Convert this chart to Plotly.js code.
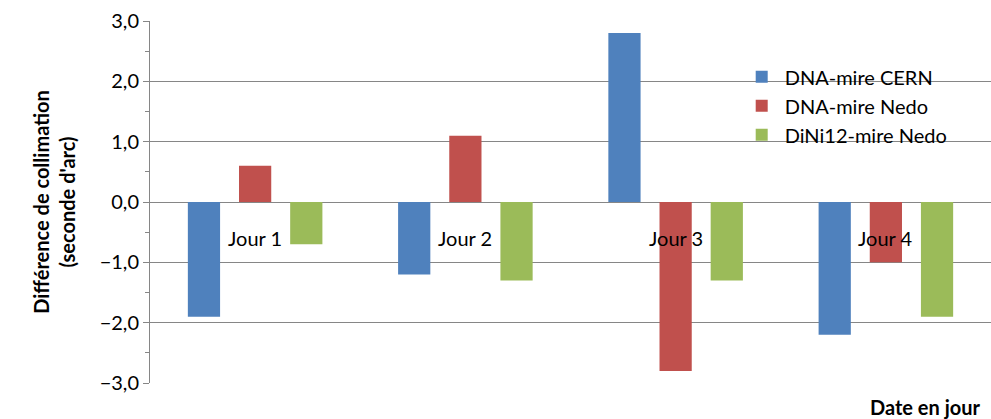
<!DOCTYPE html><html><head><meta charset="utf-8">
<script src="https://cdn.plot.ly/plotly-3.0.1.min.js"></script>
<style>body{margin:0}</style></head><body><div id="c" style="width:991px;height:419px"></div>
<script>
const categories=["Jour 1","Jour 2","Jour 3","Jour 4"];
const seriesNames=["DNA-mire CERN","DNA-mire Nedo","DiNi12-mire Nedo"];
const cern=[-1.9,-1.2,2.8,-2.2];
const nedo=[0.6,1.1,-2.8,-1.0];
const dini=[-0.7,-1.3,-1.3,-1.9];
const colors=["#4F81BD","#C0504D","#9BBB59"];
const font="Lato, Open Sans, sans-serif";
const data=[cern,nedo,dini].map((v,i)=>({type:"bar",x:categories,y:v,name:seriesNames[i],marker:{color:colors[i]}}));
const layout={width:991,height:419,margin:{l:150,r:0,t:21,b:36},
barmode:"group",bargap:0.27,bargroupgap:0.37,separators:",.",
font:{family:font,size:20,color:"#000"},
paper_bgcolor:"#fff",plot_bgcolor:"#fff",
xaxis:{showticklabels:false,showgrid:false,zeroline:false,showline:false,ticks:""},
yaxis:{range:[-3,3],dtick:1,tickformat:".1f",showgrid:true,gridcolor:"#868686",gridwidth:1,
zeroline:true,zerolinecolor:"#868686",zerolinewidth:1,showline:true,linecolor:"#868686",
ticks:"outside",ticklen:6,tickcolor:"#868686",
minor:{dtick:0.5,ticks:"outside",ticklen:4,tickcolor:"#868686",showgrid:false},
tickfont:{size:20},
title:{text:"<b>Différence de collimation<br>(seconde d'arc)</b>",font:{size:20},standoff:18}},
legend:{x:0.7,y:0.9,xanchor:"left",yanchor:"top",font:{size:20},itemwidth:36,tracegroupgap:6,bgcolor:"rgba(0,0,0,0)"},
annotations:categories.map((c,i)=>({x:c,y:-0.6,text:c,showarrow:false,font:{size:20}})).concat([
{xref:"paper",yref:"paper",x:0.99,y:-0.065,xanchor:"right",yanchor:"middle",text:"<b>Date en jour</b>",showarrow:false,font:{size:20}}])
};
Plotly.newPlot("c",data,layout,{displayModeBar:false});
</script></body></html>
